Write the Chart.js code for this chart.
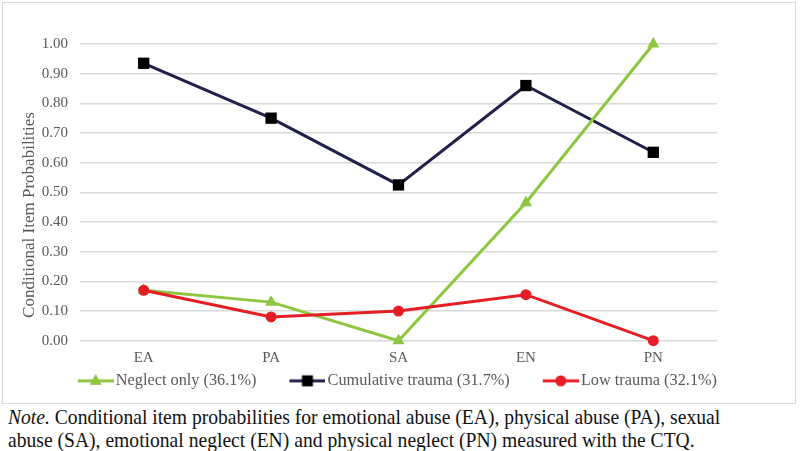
<!DOCTYPE html>
<html>
<head>
<meta charset="utf-8">
<script src="https://cdn.jsdelivr.net/npm/chart.js@4.4.1/dist/chart.umd.min.js"></script>
<style>
  body { margin: 0; background: #fff; width: 800px; height: 451px; overflow: hidden; position: relative; }
  #box { position: absolute; left: 2px; top: 2px; width: 794px; height: 402px; box-sizing: border-box; border: 1px solid #d9d9d9; }
  #box canvas { position: absolute; left: 0; top: 0; }
  #note { position: absolute; left: 8px; top: 406px; width: 790px; font-family: "Liberation Serif", "Times New Roman", serif; font-size: 19.6px; line-height: 21px; color: #111; transform: scaleY(1.08); transform-origin: 0 0; }
</style>
</head>
<body>
<div id="box"><canvas id="lineChart" width="792" height="400"></canvas></div>
<div id="note"><i>Note.</i> Conditional item probabilities for emotional abuse (EA), physical abuse (PA), sexual<br>abuse (SA), emotional neglect (EN) and physical neglect (PN) measured with the CTQ.</div>
<script>
const categories = ['EA', 'PA', 'SA', 'EN', 'PN'];
const neglectOnly = [0.17, 0.13, 0.00, 0.465, 1.00];
const cumulativeTrauma = [0.935, 0.75, 0.525, 0.86, 0.635];
const lowTrauma = [0.17, 0.08, 0.10, 0.155, 0.00];
const seriesNames = ['Neglect only (36.1%)', 'Cumulative trauma (31.7%)', 'Low trauma (32.1%)'];
const yTicks = [0, 0.1, 0.2, 0.3, 0.4, 0.5, 0.6, 0.7, 0.8, 0.9, 1.0];

const serif = '"Liberation Serif", "Times New Roman", serif';
const green = 'rgb(141, 198, 63)';
const navy = 'rgb(32, 32, 72)';
const red = 'rgb(228, 30, 36)';

// little line-with-marker pictures for the legend
function legendIcon(lineColor, markColor, shape) {
    const c = document.createElement('canvas');
    c.width = 69; c.height = 16;
    const g = c.getContext('2d');
    g.strokeStyle = lineColor;
    g.lineWidth = 3;
    g.beginPath(); g.moveTo(33, 8); g.lineTo(69, 8); g.stroke();
    g.fillStyle = markColor;
    const cx = 51, cy = 8;
    g.beginPath();
    if (shape === 'triangle') {
        g.moveTo(cx, cy - 7); g.lineTo(cx + 6, cy + 4); g.lineTo(cx - 6, cy + 4);
    } else if (shape === 'rect') {
        g.rect(cx - 5.5, cy - 5.5, 11, 11);
    } else {
        g.arc(cx, cy, 5.5, 0, Math.PI * 2);
    }
    g.closePath(); g.fill();
    return c;
}
const icons = [legendIcon(green, green, 'triangle'), legendIcon(navy, '#000', 'rect'), legendIcon(red, red, 'circle')];

const yTitle = {
    id: 'yTitle',
    afterLayout(chart) {
        // nudge legend row a bit to the right, like the original
        chart.legend.left += 6;
        chart.legend.right += 6;
    },
    afterDraw(chart) {
        const ctx = chart.ctx;
        ctx.save();
        ctx.translate(27, 212);
        ctx.rotate(-Math.PI / 2);
        ctx.font = '17px ' + serif;
        ctx.fillStyle = '#595959';
        ctx.textAlign = 'center';
        ctx.textBaseline = 'middle';
        ctx.fillText('Conditional Item Probabilities', 0, 0);
        ctx.restore();
    }
};

const ctx = document.getElementById('lineChart').getContext('2d');
const lineChart = new Chart(ctx, {
    type: 'line',
    data: {
        labels: categories,
        datasets: [
            {
                label: seriesNames[0],
                data: neglectOnly,
                borderColor: green,
                backgroundColor: green,
                borderWidth: 3,
                pointStyle: 'triangle',
                pointRadius: 7,
                pointBorderWidth: 0,
                order: 1,
                clip: false
            },
            {
                label: seriesNames[1],
                data: cumulativeTrauma,
                borderColor: navy,
                backgroundColor: '#000',
                borderWidth: 3,
                pointStyle: 'rect',
                pointRadius: 8,
                pointBorderWidth: 0,
                order: 2,
                clip: false
            },
            {
                label: seriesNames[2],
                data: lowTrauma,
                borderColor: red,
                backgroundColor: red,
                borderWidth: 3,
                pointStyle: 'circle',
                pointRadius: 5.5,
                pointBorderWidth: 0,
                order: 0,
                clip: false
            }
        ]
    },
    options: {
        responsive: false,
        animation: false,
        layout: { padding: { top: 41, right: 78, bottom: 4, left: 0 } },
        scales: {
            x: {
                offset: true,
                grid: { display: false, drawTicks: false },
                border: { display: false },
                ticks: { color: '#595959', font: { family: serif, size: 15, lineHeight: 1 }, padding: 10 },
                afterFit: (scale) => { scale.height = 26; }
            },
            y: {
                min: 0,
                max: 1,
                afterBuildTicks: (scale) => { scale.ticks = yTicks.map(v => ({ value: v })); },
                grid: { color: '#d9d9d9', lineWidth: 1.5, drawTicks: false },
                border: { display: false },
                ticks: {
                    color: '#595959',
                    font: { family: serif, size: 15 },
                    padding: 12,
                    callback: (v) => Number(v).toFixed(2)
                },
                afterFit: (scale) => { scale.width = 77; }
            }
        },
        plugins: {
            legend: {
                display: true,
                position: 'bottom',
                align: 'end',
                labels: {
                    color: '#595959',
                    font: { family: serif, size: 16.3 },
                    usePointStyle: true,
                    pointStyleWidth: 57,
                    padding: 6,
                    generateLabels: (chart) => seriesNames.map((name, i) => ({
                        text: name,
                        datasetIndex: i,
                        pointStyle: icons[i],
                        fontColor: '#595959',
                        lineWidth: 0,
                        hidden: false
                    }))
                }
            },
            tooltip: { enabled: false }
        }
    },
    plugins: [yTitle]
});
</script>
</body>
</html>
